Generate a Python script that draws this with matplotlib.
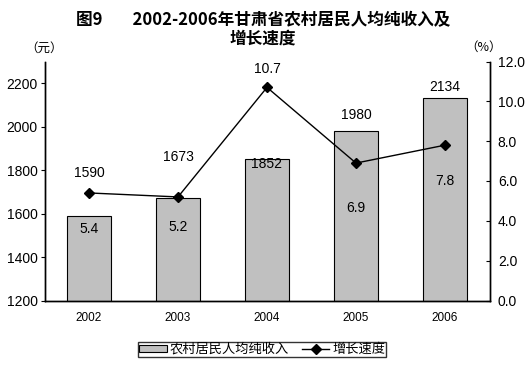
import numpy as np
import matplotlib.pyplot as plt

plt.rcParams['font.family'] = ['Noto Sans CJK SC', 'DejaVu Sans']

years = ['2002', '2003', '2004', '2005', '2006']
income = [1590, 1673, 1852, 1980, 2134]
growth = [5.4, 5.2, 10.7, 6.9, 7.8]
income_ticks = [1200, 1400, 1600, 1800, 2000, 2200]
growth_ticks = [0.0, 2.0, 4.0, 6.0, 8.0, 10.0, 12.0]
# where the value labels sit (in each axis' units)
income_label_y = [1785, 1860, 1830, 2052, 2181]
growth_label_y = [3.6, 3.7, 11.6, 4.65, 6.0]

fig = plt.figure(figsize=(5.32, 3.68), dpi=100)
ax = fig.add_axes([44.5 / 532, 1 - 300.5 / 368, 445 / 532, 239 / 368])
ax2 = ax.twinx()

x = np.arange(len(years))
ax.bar(x, income, width=0.5, color='#c0c0c0', edgecolor='black', linewidth=0.8,
       label='农村居民人均纯收入', zorder=2)
ax.set_xlim(-0.5, len(years) - 0.5)
ax.set_ylim(1200, 2300)
ax.set_yticks(income_ticks)
ax.set_xticks(x)
ax.set_xticklabels(years, family='Liberation Sans')
ax.tick_params(axis='x', length=0, labelsize=8.5, pad=8)
ax.tick_params(axis='y', direction='out', length=3, labelsize=10, pad=2)
for lab in ax.get_yticklabels():
    lab.set_family('Liberation Sans')
ax.spines['top'].set_visible(False)

ax2.plot(x, growth, color='black', marker='D', markersize=5, linewidth=1,
         label='增长速度', zorder=3)
ax2.set_ylim(0, 12)
ax2.set_yticks(growth_ticks)
ax2.set_yticklabels([f'{v:.1f}' for v in growth_ticks], family='Liberation Sans')
ax2.tick_params(axis='y', direction='in', length=3, labelsize=10, pad=6)
ax2.spines['top'].set_visible(False)
for sp in ['left', 'right', 'bottom']:
    ax.spines[sp].set_linewidth(1)
    ax2.spines[sp].set_linewidth(1)

for i, v in enumerate(income):
    ax.text(x[i], income_label_y[i], str(v), ha='center', va='center',
            fontsize=10, family='Liberation Sans')
for i, v in enumerate(growth):
    ax2.text(x[i], growth_label_y[i], f'{v:.1f}', ha='center', va='center',
             fontsize=10, family='Liberation Sans')

fig.text(263 / 532, 1 - 29 / 368, '图9        2002-2006年甘肃省农村居民人均纯收入及\n增长速度',
         ha='center', va='center', fontsize=12, fontweight='bold', linespacing=1.05)
fig.text(44 / 532, 1 - 48 / 368, '（元）', ha='center', va='center', fontsize=9)
fig.text(484 / 532, 1 - 47 / 368, '（%）', ha='center', va='center', fontsize=9)

h1, l1 = ax.get_legend_handles_labels()
h2, l2 = ax2.get_legend_handles_labels()
leg = fig.legend(h1 + h2, l1 + l2, loc='center', bbox_to_anchor=(262 / 532, 1 - 349.5 / 368),
                 ncol=2, fontsize=9.5, frameon=True, fancybox=False, edgecolor='black',
                 borderpad=0.1, handlelength=2.1, handleheight=0.5, columnspacing=1.0,
                 handletextpad=0.2, borderaxespad=0)
leg.get_frame().set_linewidth(1)

fig.savefig('out.png', dpi=100)
